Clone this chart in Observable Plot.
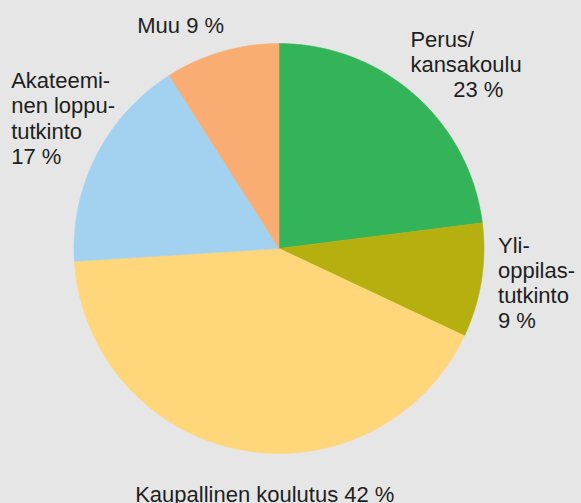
<!DOCTYPE html>
<html><head><meta charset="utf-8">
<script src="https://cdn.jsdelivr.net/npm/d3@7"></script>
<script src="https://cdn.jsdelivr.net/npm/@observablehq/plot@0.6"></script>
<style>html,body{margin:0;padding:0;background:#e6e6e6;} svg{display:block;}</style>
</head><body><div id="chart"></div>
<script>
// Data
const categories = ["Perus/kansakoulu", "Ylioppilastutkinto", "Kaupallinen koulutus", "Akateeminen loppututkinto", "Muu"];
const shares = [23, 9, 42, 17, 9];
const labelTexts = [
  "Perus/\nkansakoulu\n\u00a0\u00a0\u00a0\u00a0\u00a0\u00a0\u00a023 %",
  "Yli-\noppilas-\ntutkinto\n9 %",
  "Kaupallinen koulutus 42 %",
  "Akateemi-\nnen loppu-\ntutkinto\n17 %",
  "Muu 9 %"
];
// Styles / layout
const colors = ["#34b459", "#b5b010", "#ffd67a", "#a3d2f1", "#f9ad72"];
const labelDx = [-34, -28, -97, -45, -72];
const labelDy = [3, -5, 0, -17, 17];

const W = 581, H = 503, CX = 278.5, CY = 248, R = 205;
const total = d3.sum(shares);
let acc = 0;
const slices = categories.map((c, i) => {
  const a0 = acc / total * 2 * Math.PI;
  acc += shares[i];
  const a1 = acc / total * 2 * Math.PI;
  return {category: c, share: shares[i], a0, a1, mid: (a0 + a1) / 2, label: labelTexts[i], i};
});
const pts = [];
for (const s of slices) {
  pts.push({category: s.category, x: 0, y: 0});
  const n = Math.max(2, Math.ceil((s.a1 - s.a0) / (Math.PI / 360)));
  for (let k = 0; k <= n; k++) {
    const a = s.a0 + (s.a1 - s.a0) * k / n;
    pts.push({category: s.category, x: Math.sin(a), y: Math.cos(a)});
  }
  pts.push({category: s.category, x: 0, y: 0});
}
const LR = 1.22;
const textMarks = slices.map(s => Plot.text([s], {
  x: d => LR * Math.sin(d.mid), y: d => LR * Math.cos(d.mid), text: "label",
  textAnchor: "start", dx: labelDx[s.i], dy: labelDy[s.i], lineHeight: 1.14,
  fill: "#1e1e1e", fontSize: 22, fontFamily: "Liberation Sans, Arial, sans-serif"
}));

const chart = Plot.plot({
  width: W, height: H, margin: 0,
  style: {background: "#e6e6e6", overflow: "visible"},
  x: {domain: [-CX / R, (W - CX) / R], axis: null},
  y: {domain: [(CY - H) / R, CY / R], axis: null},
  color: {domain: categories, range: colors},
  marks: [
    Plot.line(pts, {x: "x", y: "y", z: "category", fill: "category", stroke: "category", strokeWidth: 0.5, curve: "linear"}),
    ...textMarks
  ]
});
document.getElementById("chart").appendChild(chart);
</script></body></html>
